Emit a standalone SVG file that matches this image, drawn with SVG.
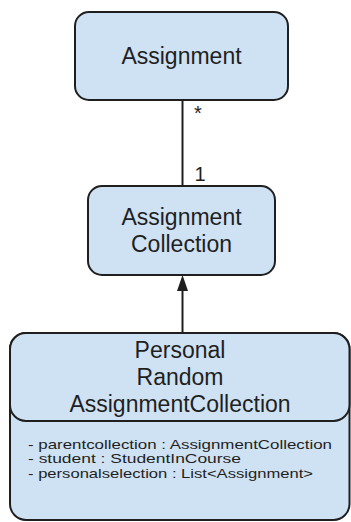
<svg xmlns="http://www.w3.org/2000/svg" width="351" height="522" viewBox="0 0 351 522">
<style>
.box{fill:#cfe2f3;stroke:#1f1f1f;stroke-width:2}
.t{font-family:"Liberation Sans",Arial,sans-serif;font-size:23px;fill:#1f1f1f;text-anchor:middle}
.a{font-family:"Liberation Sans",Arial,sans-serif;font-size:13px;fill:#1f1f1f}
.m{font-family:"Liberation Sans",Arial,sans-serif;font-size:20px;fill:#1f1f1f;text-anchor:middle}
.c{stroke:#1f1f1f;stroke-width:2;fill:none}
</style>
<rect width="351" height="522" fill="#ffffff"/>
<g id="connectors">
<line class="c" x1="182.5" y1="100" x2="182.5" y2="186"/>
<text class="m" x="198" y="120">*</text>
<text class="m" x="200" y="181">1</text>
<line class="c" x1="182.5" y1="333" x2="182.5" y2="289"/>
<polygon points="182.5,275 177,291 188,291" fill="#1f1f1f"/>
</g>
<g id="assignment">
<rect class="box" x="75" y="12" width="213" height="88" rx="14"/>
<text class="t" x="181.5" y="64">Assignment</text>
</g>
<g id="assignment-collection">
<rect class="box" x="88" y="186" width="187" height="89" rx="14"/>
<text class="t" x="181.5" y="225">Assignment</text>
<text class="t" x="181.5" y="252">Collection</text>
</g>
<g id="personal-random-assignment-collection">
<rect class="box" x="10" y="333" width="339.5" height="187" rx="16"/>
<rect class="box" x="10" y="333" width="339.5" height="88" rx="16"/>
<text class="t" x="180" y="358">Personal</text>
<text class="t" x="180" y="385">Random</text>
<text class="t" x="180" y="412">AssignmentCollection</text>
<text class="a" x="28" y="448.5" textLength="304" lengthAdjust="spacingAndGlyphs">- parentcollection : AssignmentCollection</text>
<text class="a" x="28" y="463" textLength="213" lengthAdjust="spacingAndGlyphs">- student : StudentInCourse</text>
<text class="a" x="28" y="477.5" textLength="285" lengthAdjust="spacingAndGlyphs">- personalselection : List&lt;Assignment&gt;</text>
</g>
</svg>
